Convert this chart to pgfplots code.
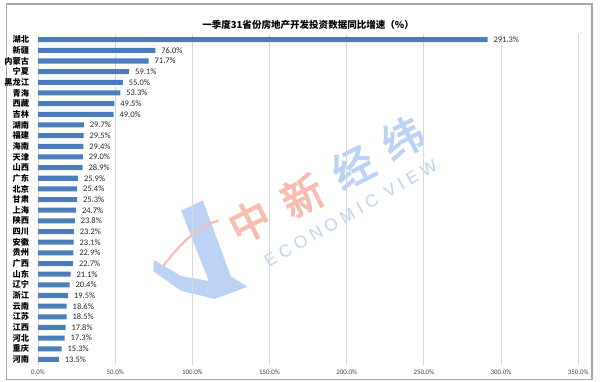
\documentclass[border=0pt]{standalone}
\usepackage{pgfplots}
\usepackage{pgfplotstable}
\pgfplotsset{compat=1.18}
\usepackage{fontspec}
\setmainfont{Carlito}
\newfontfamily\cjk{Noto Sans CJK SC}
\newfontfamily\cjkwm{Noto Sans CJK SC}[FakeBold=3]
\newfontfamily\wmfont{Liberation Sans}
\definecolor{barblue}{HTML}{4A7EBB}
\definecolor{gridgray}{HTML}{D9D9D9}
\definecolor{wmred}{HTML}{F8BDB0}
\definecolor{wmblue}{HTML}{BCD3F5}
\pgfplotstableread{
idx val name
1 291.3 湖北
2 76.0 新疆
3 71.7 内蒙古
4 59.1 宁夏
5 55.0 黑龙江
6 53.3 青海
7 49.5 西藏
8 49.0 吉林
9 29.7 湖南
10 29.5 福建
11 29.4 海南
12 29.0 天津
13 28.9 山西
14 25.9 广东
15 25.4 北京
16 25.3 甘肃
17 24.7 上海
18 23.8 陕西
19 23.2 四川
20 23.1 安徽
21 22.9 贵州
22 22.7 广西
23 21.1 山东
24 20.4 辽宁
25 19.5 浙江
26 18.6 云南
27 18.5 江苏
28 17.8 江西
29 17.3 河北
30 15.3 重庆
31 13.5 河南
}\data
\begin{document}
\begin{tikzpicture}
\path (0,0) rectangle (450pt,288pt);
\draw[gray!70, line width=1pt] (1.5pt,1.5pt) rectangle (444pt,285pt);
% watermark (coordinates in reference pixels)
\begin{scope}[shift={(0,288pt)}, x=0.75pt, y=-0.75pt]
  \fill[wmblue] (178,212) -- (200,202) -- (228,278) -- (245,289) -- (212,301) -- (178,293) -- (150,273) -- (151,262) -- (178,278) -- (206,283) -- cycle;
  \draw[wmred, line width=1.6pt] (160,268) .. controls (180,242) and (196,228) .. (216,222);
  \node[rotate=27, text=wmred, font=\cjkwm\fontsize{31}{31}\selectfont] at (247,223) {中};
  \node[rotate=27, text=wmred, font=\cjkwm\fontsize{31}{31}\selectfont] at (300,197) {新};
  \node[rotate=27, text=wmblue, font=\cjkwm\fontsize{31}{31}\selectfont] at (351,168) {经};
  \node[rotate=27, text=wmblue, font=\cjkwm\fontsize{31}{31}\selectfont] at (401,139) {纬};
  \node[rotate=30, text=wmblue, font=\wmfont\fontsize{13}{13}\selectfont] at (349,215) {E C O N O M I C \ V I E W};
\end{scope}
\node[font=\cjk\bfseries\fontsize{7.2}{8}\selectfont] at (229.5pt,269.5pt) {一季度31省份房地产开发投资数据同比增速（\%）};
\begin{axis}[
  at={(25.5pt,12.45pt)}, anchor=south west,
  scale only axis, width=408pt, height=249.6pt,
  xbar, bar width=3.8pt,
  xmin=0, xmax=350,
  ymin=0.5, ymax=31.5, y dir=reverse,
  xtick={0,50,...,350},
  xticklabel={\pgfmathprintnumber[fixed,fixed zerofill,precision=1]{\tick}\%},
  /pgf/number format/assume math mode=true,
  xticklabel style={font=\fontsize{5.2}{6}\selectfont, text=black!75},
  ytick=data,
  yticklabels from table={\data}{name},
  yticklabel style={font=\cjk\bfseries\fontsize{6.2}{7}\selectfont, xshift=1pt},
  tick style={draw=none},
  xmajorgrids, major grid style={gridgray, line width=0.6pt},
  axis line style={draw=none},
  nodes near coords={\pgfmathprintnumber[fixed,fixed zerofill,precision=1]{\pgfplotspointmeta}\%},
  nodes near coords style={font=\fontsize{6.4}{7}\selectfont, text=black!85, anchor=west, xshift=1pt},
  point meta=x,
  clip=false,
]
\addplot[fill=barblue, draw=none] table[x=val, y=idx] {\data};
\end{axis}
\end{tikzpicture}
\end{document}
